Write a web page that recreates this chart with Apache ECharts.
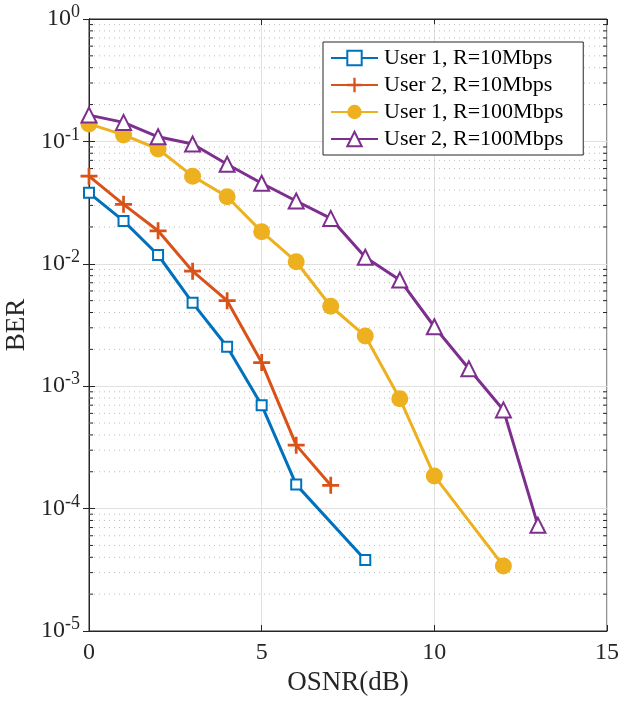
<!DOCTYPE html>
<html>
<head>
<meta charset="utf-8">
<script src="https://cdn.jsdelivr.net/npm/echarts@6/dist/echarts.min.js"></script>
<style>
html,body{margin:0;padding:0;background:#fff;}
#chart{width:619px;height:701px;}
</style>
</head>
<body>
<div id="chart"></div>
<script>
const seriesNames = ['User 1, R=10Mbps', 'User 2, R=10Mbps', 'User 1, R=100Mbps', 'User 2, R=100Mbps'];
const user1_10_x = [0, 1, 2, 3, 4, 5, 6, 8];
const user1_10_ber = [0.038, 0.0224, 0.0118, 0.0048, 0.0021, 0.00070, 0.000157, 3.8e-5];
const user2_10_x = [0, 1, 2, 3, 4, 5, 6, 7];
const user2_10_ber = [0.052, 0.0306, 0.0186, 0.0087, 0.0050, 0.00156, 0.00033, 0.000155];
const user1_100_x = [0, 1, 2, 3, 4, 5, 6, 7, 8, 9, 10, 12];
const user1_100_ber = [0.139, 0.113, 0.0867, 0.052, 0.0353, 0.0183, 0.0104, 0.0045, 0.00257, 0.00079, 0.000185, 3.4e-5];
const user2_100_x = [0, 1, 2, 3, 4, 5, 6, 7, 8, 9, 10, 11, 12, 13];
const user2_100_ber = [0.164, 0.143, 0.109, 0.0953, 0.065, 0.0455, 0.0326, 0.0235, 0.0113, 0.00738, 0.00306, 0.00139, 0.00064, 7.3e-5];
const xTicks = [0, 5, 10, 15];
const yDecades = [-5, -4, -3, -2, -1, 0];

const colors = ['#0072BD', '#D95319', '#EDB120', '#7E2F8E'];
const FONT = '"Liberation Serif", "Times New Roman", serif';
const TXT = '#262626';

// minor decade values (2..9 x 10^k)
const minorVals = [];
for (let k = -5; k < 0; k++) for (let m = 2; m <= 9; m++) minorVals.push(+(m * Math.pow(10, k)).toPrecision(3));

function pairs(xs, ys) { return xs.map((x, i) => [x, ys[i]]); }

const plusPath = 'path://M42,0H58V42H100V58H58V100H42V58H0V42H42Z';

const chart = echarts.init(document.getElementById('chart'));

const yLabel = {
  fontFamily: FONT, color: TXT, margin: 9,
  formatter: function (v) {
    const e = Math.round(Math.log10(v));
    return '{b|10}{s|' + e + '}';
  },
  rich: {
    b: { fontSize: 24, fontFamily: FONT, color: TXT },
    s: { fontSize: 18, fontFamily: FONT, color: TXT, padding: [0, 0, 13, 0] }
  }
};

const lineSeries = [
  { d: pairs(user1_10_x, user1_10_ber), sym: 'emptyRect', size: 10 },
  { d: pairs(user2_10_x, user2_10_ber), sym: plusPath, size: 17 },
  { d: pairs(user1_100_x, user1_100_ber), sym: 'circle', size: 17 },
  { d: pairs(user2_100_x, user2_100_ber), sym: 'emptyTriangle', size: 15 }
].map((s, i) => ({
  name: seriesNames[i],
  type: 'line',
  data: s.d,
  symbol: s.sym,
  symbolSize: s.size,
  showAllSymbol: true,
  lineStyle: { color: colors[i], width: 3 },
  itemStyle: { color: colors[i], borderColor: colors[i], borderWidth: (s.sym === 'circle' || s.sym === plusPath) ? 0 : 2.4 },
  z: 10 + i,
  animation: false
}));

// minor grid + minor ticks drawn through the axes' scales
const minorSeries = {
  type: 'custom',
  silent: true,
  animation: false,
  z: 1,
  data: minorVals.map(v => [0, v]),
  encode: { x: 0, y: 1 },
  renderItem: function (params, api) {
    const v = api.value(1);
    const pL = api.coord([0, v]);
    const pR = api.coord([15, v]);
    return {
      type: 'group',
      children: [
        { type: 'line', shape: { x1: pL[0], y1: pL[1], x2: pR[0], y2: pR[1] },
          style: { stroke: '#bcbcbc', lineWidth: 1, lineDash: [1, 4] } },
        { type: 'line', shape: { x1: pL[0], y1: pL[1], x2: pL[0] + 4, y2: pL[1] },
          style: { stroke: TXT, lineWidth: 1 } },
        { type: 'line', shape: { x1: pR[0], y1: pR[1], x2: pR[0] - 4, y2: pR[1] },
          style: { stroke: TXT, lineWidth: 1 } }
      ]
    };
  }
};

const option = {
  backgroundColor: '#fff',
  color: colors,
  animation: false,
  grid: { left: 89, right: 12, top: 19, bottom: 70, containLabel: false, outerBoundsMode: 'none', show: true, borderColor: TXT, borderWidth: 1, backgroundColor: 'transparent' },
  legend: {
    data: seriesNames,
    orient: 'vertical',
    left: 323, top: 42,
    padding: [5, 20, 5, 7],
    itemGap: 5,
    itemWidth: 47,
    itemHeight: 18,
    backgroundColor: '#fff',
    borderColor: TXT,
    borderWidth: 1,
    borderRadius: 0,
    textStyle: { fontFamily: FONT, fontSize: 22, color: '#000', padding: [0, 0, 0, 1] },
    z: 50
  },
  xAxis: [
    {
      type: 'value', min: 0, max: 15, interval: 5,
      name: 'OSNR(dB)', nameLocation: 'middle', nameGap: 36,
      nameTextStyle: { fontFamily: FONT, fontSize: 27, color: TXT },
      axisLine: { show: true, lineStyle: { color: TXT, width: 1 } },
      axisTick: { show: true, inside: true, length: 6, lineStyle: { color: TXT } },
      axisLabel: { fontFamily: FONT, fontSize: 24, color: TXT, margin: 10 },
      splitLine: { show: true, lineStyle: { color: '#e0e0e0', width: 1 } }
    },
    {
      type: 'value', min: 0, max: 15, interval: 5, position: 'top',
      axisLine: { show: true, lineStyle: { color: TXT, width: 1 } },
      axisTick: { show: true, inside: true, length: 6, lineStyle: { color: TXT } },
      axisLabel: { show: false },
      splitLine: { show: false }
    }
  ],
  yAxis: [
    {
      type: 'log', logBase: 10, min: 1e-5, max: 1,
      name: 'BER', nameLocation: 'middle', nameGap: 58,
      nameTextStyle: { fontFamily: FONT, fontSize: 27, color: TXT },
      axisLine: { show: true, lineStyle: { color: TXT, width: 1 } },
      axisTick: { show: true, inside: true, length: 6, lineStyle: { color: TXT } },
      axisLabel: yLabel,
      splitLine: { show: true, lineStyle: { color: '#e0e0e0', width: 1 } }
    },
    {
      type: 'log', logBase: 10, min: 1e-5, max: 1, position: 'right',
      axisLine: { show: true, lineStyle: { color: TXT, width: 1 } },
      axisTick: { show: true, inside: true, length: 6, lineStyle: { color: TXT } },
      axisLabel: { show: false },
      splitLine: { show: false }
    }
  ],
  series: [minorSeries].concat(lineSeries)
};
chart.setOption(option);
</script>
</body>
</html>
